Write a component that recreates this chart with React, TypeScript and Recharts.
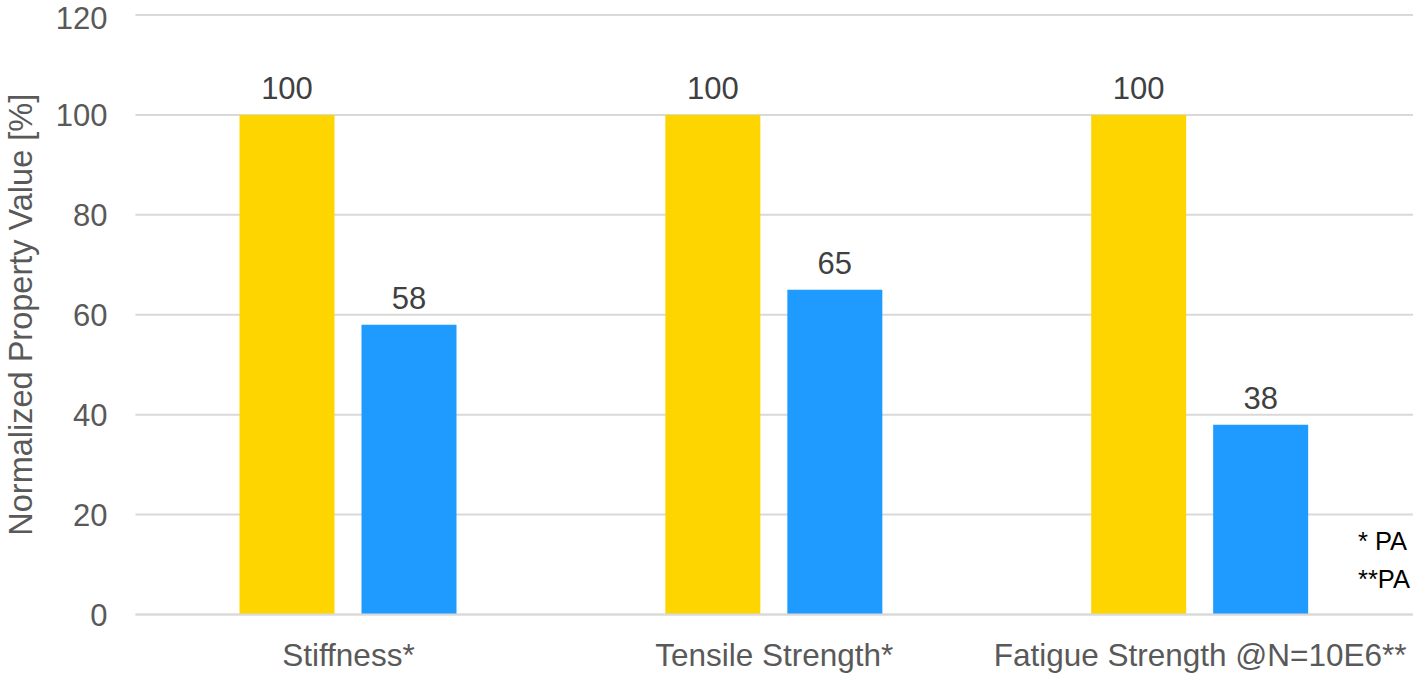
import React from "react";
import { BarChart, Bar, XAxis, YAxis, CartesianGrid, LabelList, Label } from "recharts";

const categories = ["Stiffness*", "Tensile Strength*", "Fatigue Strength @N=10E6**"];
const referenceValues = [100, 100, 100];
const comparisonValues = [58, 65, 38];
const yTicks = [0, 20, 40, 60, 80, 100, 120];
const yAxisTitle = "Normalized Property Value [%]";
const notes = ["* PA", "**PA"];

const data = categories.map((name, i) => ({
  name,
  reference: referenceValues[i],
  comparison: comparisonValues[i],
}));

const FONT = "'Liberation Sans', Arial, sans-serif";

const AxisTitle = (props: any) => {
  const vb = props.viewBox || {};
  const cy = vb.y + vb.height / 2;
  const x = 32;
  return (
    <text
      x={x}
      y={cy}
      transform={`rotate(-90 ${x} ${cy})`}
      textAnchor="middle"
      fill="#595959"
      fontSize={32.5}
      fontFamily={FONT}
    >
      {yAxisTitle}
    </text>
  );
};

export default function App() {
  return (
    <div style={{ position: "absolute", left: 0, top: 0, width: 1416, height: 673, background: "#fff" }}>
      <BarChart
        width={1416}
        height={673}
        data={data}
        margin={{ top: 15, right: 3, bottom: 0, left: 0 }}
        barSize={95}
        barGap={27}
      >
        <CartesianGrid vertical={false} stroke="#d9d9d9" strokeWidth={2} />
        <XAxis
          dataKey="name"
          height={58.5}
          axisLine={{ stroke: "#d9d9d9", strokeWidth: 2 }}
          tickLine={false}
          tickSize={0}
          tickMargin={29}
          interval={0}
          tick={{ fill: "#595959", fontSize: 31.5, fontFamily: FONT }}
        />
        <YAxis
          width={135.5}
          domain={[0, 120]}
          ticks={yTicks}
          axisLine={false}
          tickLine={false}
          tickSize={0}
          tickMargin={28}
          tick={{ fill: "#595959", fontSize: 31, fontFamily: FONT }}
        >
          <Label content={<AxisTitle />} />
        </YAxis>
        <Bar dataKey="reference" fill="#FFD500" isAnimationActive={false}>
          <LabelList dataKey="reference" position="top" offset={16} fill="#404040" fontSize={31} fontFamily={FONT} />
        </Bar>
        <Bar dataKey="comparison" fill="#1F9BFF" isAnimationActive={false}>
          <LabelList dataKey="comparison" position="top" offset={16} fill="#404040" fontSize={31} fontFamily={FONT} />
        </Bar>
        {notes.map((t, i) => (
          <text key={t} x={1358} y={550 + i * 38} fill="#000" fontSize={25.5} fontFamily={FONT}>
            {t}
          </text>
        ))}
      </BarChart>
    </div>
  );
}
